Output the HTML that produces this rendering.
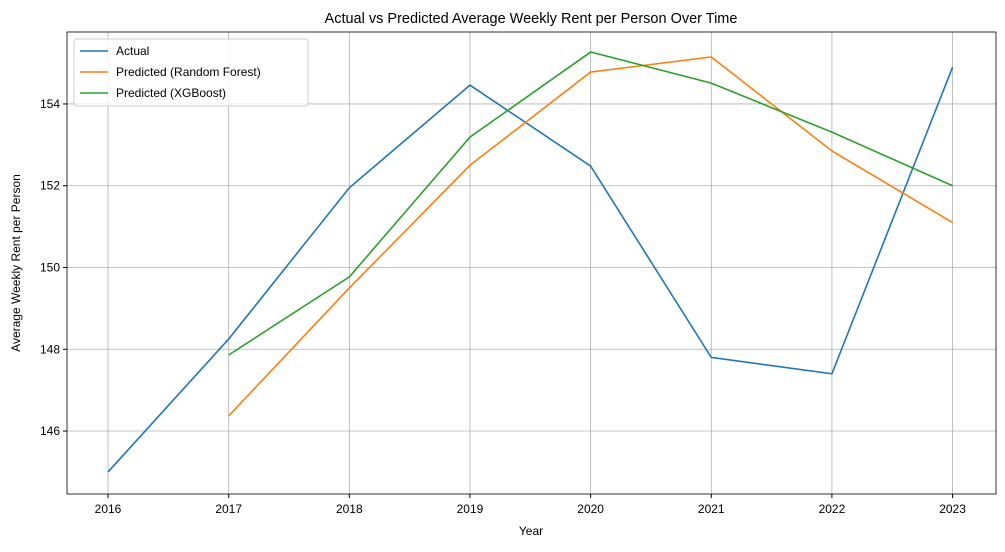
<!DOCTYPE html>
<html><head><meta charset="utf-8"><style>
body{margin:0;background:#fff;}
svg{font-family:"Liberation Sans","DejaVu Sans",sans-serif;}
</style></head><body>
<svg id="c" width="1005" height="547"></svg>
<script>
const years=[2016,2017,2018,2019,2020,2021,2022,2023];
const actual=[145.0,148.25,151.95,154.46,152.48,147.8,147.4,154.9];
const rfYears=[2017,2018,2019,2020,2021,2022,2023];
const rf=[146.37,149.5,152.5,154.78,155.15,152.85,151.1];
const xgb=[147.86,149.77,153.19,155.27,154.51,153.31,152.0];
const yTicks=[146,148,150,152,154];
const L=67,R=996,T=32,B=494;
const x0=2015.66,x1=2023.36,y0=144.46,y1=155.76;
const X=v=>L+(v-x0)/(x1-x0)*(R-L);
const Y=v=>B-(v-y0)/(y1-y0)*(B-T);
const svg=document.getElementById('c');const NS='http://www.w3.org/2000/svg';
function mk(t,a,p){const e=document.createElementNS(NS,t);for(const k in a)e.setAttribute(k,a[k]);(p||svg).appendChild(e);return e;}
years.forEach(y=>{
 const g=mk('line',{x1:X(y),x2:X(y),y1:T,y2:B,stroke:'#b0b0b0','stroke-width':0.8});
 
 
 mk('line',{x1:X(y),x2:X(y),y1:B,y2:B+4,stroke:'#000'});
 const t=mk('text',{x:X(y),y:B+19,'text-anchor':'middle','font-size':12});t.textContent=y;
 
 
});
yTicks.forEach(v=>{
 const g=mk('line',{x1:L,x2:R,y1:Y(v),y2:Y(v),stroke:'#b0b0b0','stroke-width':0.8});
 
 
 mk('line',{x1:L-4,x2:L,y1:Y(v),y2:Y(v),stroke:'#000'});
 const t=mk('text',{x:L-7,y:Y(v)+4,'text-anchor':'end','font-size':12});t.textContent=v;
 
 
});
function line(xs,vs,c,n){const p=mk('polyline',{points:xs.map((x,i)=>X(x)+','+Y(vs[i])).join(' '),fill:'none',stroke:c,'stroke-width':1.6});
 
 }
line(years,actual,'#1f77b4','actual-line');
line(rfYears,rf,'#ff7f0e','random-forest-line');
line(rfYears,xgb,'#2ca02c','xgboost-line');
mk('rect',{x:L,y:T,width:R-L,height:B-T,fill:'none',stroke:'#000','stroke-width':0.8});
</script>
<svg width="1005" height="547" style="position:absolute;left:0;top:0">
<text x="531" y="23" text-anchor="middle" font-size="14.5">Actual vs Predicted Average Weekly Rent per Person Over Time</text>
<text x="531" y="535" text-anchor="middle" font-size="12">Year</text>
<text x="20" y="263" text-anchor="middle" font-size="12" transform="rotate(-90 20 263)">Average Weekly Rent per Person</text>
<g>
<rect x="74" y="39" width="234" height="67" rx="3" fill="#fff" fill-opacity="0.8" stroke="#ccc"/>
<line x1="80" x2="108" y1="51" y2="51" stroke="#1f77b4" stroke-width="1.6"/>
<text x="116" y="55" font-size="12">Actual</text>
<line x1="80" x2="108" y1="72" y2="72" stroke="#ff7f0e" stroke-width="1.6"/>
<text x="116" y="76" font-size="12">Predicted (Random Forest)</text>
<line x1="80" x2="108" y1="93" y2="93" stroke="#2ca02c" stroke-width="1.6"/>
<text x="116" y="97" font-size="12">Predicted (XGBoost)</text>
</g>
</svg>
</body></html>
